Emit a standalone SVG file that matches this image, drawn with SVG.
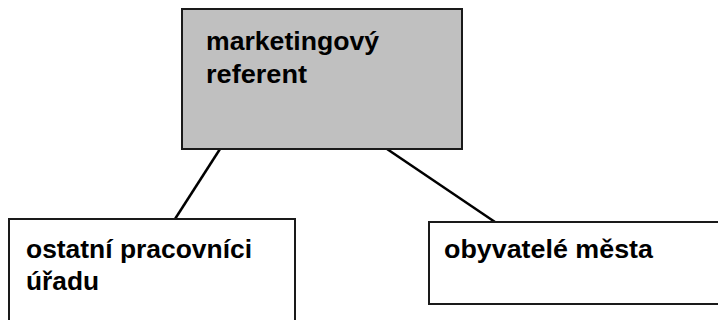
<svg xmlns="http://www.w3.org/2000/svg" width="718" height="320" viewBox="0 0 718 320">
<style>
.box{stroke:#1a1a1a;stroke-width:2}
.lbl{font-family:"Liberation Sans",Arial,sans-serif;font-weight:bold;font-size:25px;fill:#000}
.conn{stroke:#000;stroke-width:2.5;fill:none}
</style>
<rect width="718" height="320" fill="#fff"/>
<g id="connectors">
<line class="conn" x1="220" y1="149" x2="175" y2="219"/>
<line class="conn" x1="387" y1="149" x2="495" y2="222"/>
</g>
<g id="node-referent">
<rect class="box" x="182" y="9" width="280" height="140" fill="#c0c0c0"/>
<text class="lbl" x="206" y="50" textLength="173" lengthAdjust="spacingAndGlyphs">marketingový</text>
<text class="lbl" x="206" y="83" textLength="101" lengthAdjust="spacingAndGlyphs">referent</text>
</g>
<g id="node-pracovnici">
<rect class="box" x="9" y="219" width="286" height="110" fill="#fff"/>
<text class="lbl" x="26" y="258" textLength="226" lengthAdjust="spacingAndGlyphs">ostatní pracovníci</text>
<text class="lbl" x="26" y="290" textLength="73" lengthAdjust="spacingAndGlyphs">úřadu</text>
</g>
<g id="node-obyvatele">
<rect class="box" x="429" y="222" width="300" height="82" fill="#fff"/>
<text class="lbl" x="444" y="258" textLength="209" lengthAdjust="spacingAndGlyphs">obyvatelé města</text>
</g>
</svg>
